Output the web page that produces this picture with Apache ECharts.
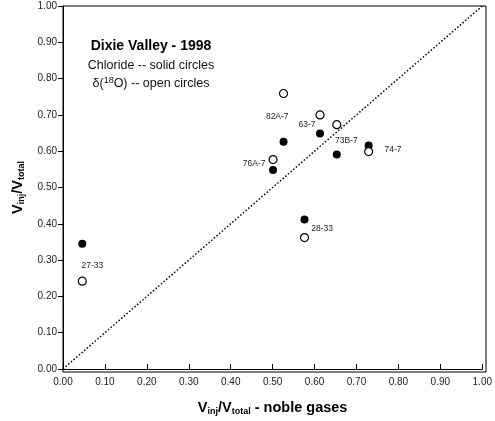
<!DOCTYPE html>
<html>
<head>
<meta charset="utf-8">
<script src="https://cdn.jsdelivr.net/npm/echarts@6/dist/echarts.min.js"></script>
<style>
  html, body { margin: 0; padding: 0; background: #fff; }
  #chart { width: 495px; height: 421px; }
</style>
</head>
<body>
<div id="chart"></div>
<script>
// noble gas fraction (x) vs chloride (solid) and d18O (open) fraction (y)
var wells = ['27-33', '76A-7', '82A-7', '28-33', '63-7', '73B-7', '74-7']
var nobleGas = [0.046, 0.501, 0.526, 0.576, 0.613, 0.653, 0.729]
var chloride = [0.345, 0.548, 0.626, 0.412, 0.649, 0.591, 0.616]
var oxygen18 = [0.242, 0.577, 0.759, 0.362, 0.700, 0.673, 0.599]
// where each well name sits (data units)
var labelX = [0.070, 0.456, 0.511, 0.618, 0.582, 0.676, 0.787]
var labelY = [0.286, 0.565, 0.695, 0.386, 0.673, 0.630, 0.605]
var oneToOne = [[0, 0], [1, 1]]

var font = 'Liberation Sans, Arial, sans-serif'
var chart = echarts.init(document.getElementById('chart'))

var solidPts = nobleGas.map(function (x, i) { return [x, chloride[i]] })
var openPts = nobleGas.map(function (x, i) { return [x, oxygen18[i]] })
var labelPts = wells.map(function (w, i) { return { value: [labelX[i], labelY[i]], name: w } })

var nameRich = {
  b: { fontFamily: font, fontWeight: 'bold', fontSize: 14.5, color: '#000' },
  s: { fontFamily: font, fontWeight: 'bold', fontSize: 9, color: '#000', padding: [7, 0, 0, 0] }
}

var option = {
  animation: false,
  backgroundColor: '#fff',
  title: {
    left: 146,
    top: 32,
    textAlign: 'center',
    text: '{t|Dixie Valley - 1998}\n{n|Chloride -- solid circles}\n{n|δ(}{sup|18}{n|O) -- open circles}',
    textStyle: {
      fontWeight: 'normal',
      rich: {
        t: { fontFamily: font, fontWeight: 'bold', fontSize: 14, color: '#000', lineHeight: 19, align: 'center' },
        n: { fontFamily: font, fontWeight: 'normal', fontSize: 12.5, color: '#111', lineHeight: 18.5 },
        sup: { fontFamily: font, fontWeight: 'normal', fontSize: 9, color: '#111', padding: [0, 0, 7, 0] }
      }
    }
  },
  grid: { left: 63, right: 9, top: 6, bottom: 49 },
  xAxis: {
    type: 'value',
    min: 0,
    max: 1,
    interval: 0.1,
    name: '{b|V}{s|inj}{b|/V}{s|total}{b| - noble gases}',
    nameLocation: 'middle',
    nameGap: 31,
    nameTextStyle: { rich: nameRich },
    axisLine: { lineStyle: { color: '#000', width: 1 } },
    axisTick: { inside: true, length: 5, lineStyle: { color: '#000' } },
    axisLabel: {
      fontFamily: font, fontSize: 10, color: '#222', margin: 8,
      formatter: function (v) { return v.toFixed(2) }
    },
    splitLine: { show: false }
  },
  yAxis: {
    type: 'value',
    min: 0,
    max: 1,
    interval: 0.1,
    name: '{b|V}{s|inj}{b|/V}{s|total}',
    nameLocation: 'middle',
    nameGap: 37,
    nameTextStyle: { rich: nameRich },
    axisLine: { lineStyle: { color: '#000', width: 1 } },
    axisTick: { inside: false, length: 5, lineStyle: { color: '#000' } },
    axisLabel: {
      fontFamily: font, fontSize: 10, color: '#222', margin: 6,
      formatter: function (v) { return v.toFixed(2) }
    },
    splitLine: { show: false }
  },
  graphic: [{
    type: 'rect',
    shape: { x: 63, y: 6, width: 423, height: 366 },
    style: { fill: 'none', stroke: '#000', lineWidth: 1 },
    silent: true
  }],
  series: [
    {
      type: 'line',
      data: oneToOne,
      symbol: 'none',
      lineStyle: { color: '#000', width: 1.5, type: [1.5, 2] }
    },
    {
      type: 'scatter',
      data: solidPts,
      symbol: 'circle',
      symbolSize: 8,
      itemStyle: { color: '#000', opacity: 1 }
    },
    {
      type: 'scatter',
      data: openPts,
      symbol: 'circle',
      symbolSize: 8,
      itemStyle: { color: '#fff', borderColor: '#000', borderWidth: 1.2, opacity: 1 }
    },
    {
      type: 'scatter',
      data: labelPts,
      symbolSize: 0,
      silent: true,
      itemStyle: { opacity: 1 },
      label: {
        show: true,
        position: 'inside',
        formatter: '{b}',
        fontFamily: font,
        fontSize: 8.5,
        color: '#222'
      }
    }
  ]
}
chart.setOption(option)
</script>
</body>
</html>
